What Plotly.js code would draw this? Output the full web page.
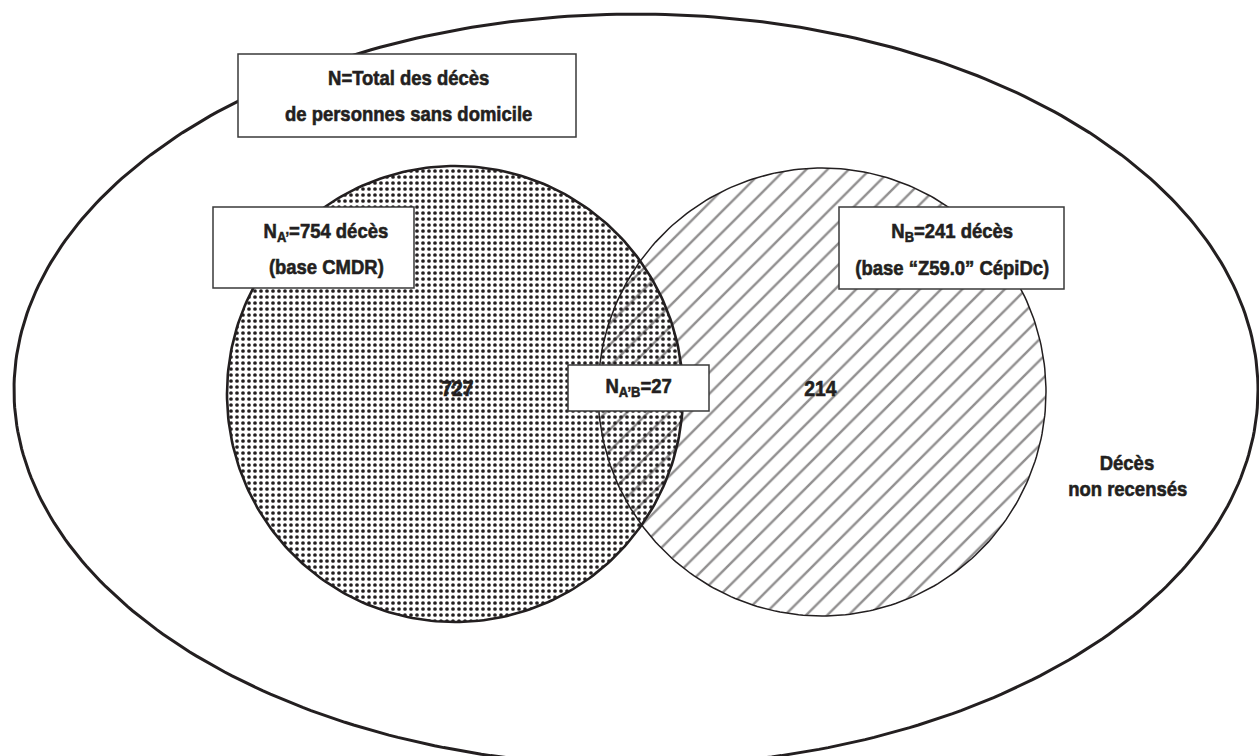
<!DOCTYPE html>
<html><head><meta charset="utf-8">
<script src="https://cdn.plot.ly/plotly-3.0.1.min.js"></script>
<style>html,body{margin:0;padding:0;background:#fff}#chart{width:1259px;height:756px}</style>
</head><body><div id="chart"></div>
<script>
// ---- data ----
const totalLabel = ["N=Total des décès", "de personnes sans domicile"];
const setKeys = ["A’", "B"];
const setTotals = [754, 241];
const setSources = ["(base CMDR)", "(base “Z59.0” CépiDc)"];
const onlyCounts = [727, 214];
const intersectionKey = "A’B";
const intersectionCount = 27;
const unrecordedLabel = ["Décès", "non recensés"];

// ---- geometry / style (layout only) ----
const INK = "#231f20";
const FONT = "'Liberation Sans', Arial, Helvetica, sans-serif";
const FS = 21;          // font size
const SX = 0.88;        // horizontal condensing of the text (narrow face)
const geo = {
  outer: {cx: 636, cy: 390, rx: 622, ry: 376},
  A: {cx: 455, cy: 394, r: 228},
  B: {cx: 822, cy: 392, r: 224},
  titleBox: {x0: 238, y0: 54, x1: 576, y1: 137, tx: 408, lines: [77, 113]},
  boxA: {x0: 213, y0: 207, x1: 414, y1: 288, tx: 326, lines: [232, 266]},
  boxB: {x0: 839, y0: 207, x1: 1064, y1: 289, tx: 952, lines: [232, 267]},
  boxAB: {x0: 568, y0: 365, x1: 709, y1: 411, tx: 638, line: 387},
  onlyPos: [[457, 388], [820, 388]],
  unrecorded: {x: 1127, lines: [462, 488]}
};

function ellipse(cx, cy, rx, ry, n) {
  const xs = [], ys = [];
  for (let i = 0; i <= n; i++) {
    const t = 2 * Math.PI * i / n;
    xs.push(cx + rx * Math.cos(t));
    ys.push(cy + ry * Math.sin(t));
  }
  return {x: xs, y: ys};
}

const outer = ellipse(geo.outer.cx, geo.outer.cy, geo.outer.rx, geo.outer.ry, 400);
const cA = ellipse(geo.A.cx, geo.A.cy, geo.A.r, geo.A.r, 300);
const cB = ellipse(geo.B.cx, geo.B.cy, geo.B.r, geo.B.r, 300);

const traces = [
  {x: outer.x, y: outer.y, mode: 'lines', line: {color: INK, width: 3}, hoverinfo: 'skip'},
  {x: cA.x, y: cA.y, mode: 'lines', fill: 'toself', fillcolor: 'white', line: {width: 0, color: 'rgba(0,0,0,0)'},
   fillpattern: {shape: '.', size: 6, solidity: 0.3, fgcolor: INK, bgcolor: 'white', fillmode: 'replace'}, hoverinfo: 'skip'},
  {x: cB.x, y: cB.y, mode: 'lines', fill: 'toself', fillcolor: 'rgba(0,0,0,0)', line: {width: 1.5, color: INK},
   fillpattern: {shape: '/', size: 15, solidity: 0.16, fgcolor: INK, bgcolor: 'rgba(0,0,0,0)', fillmode: 'overlay'}, hoverinfo: 'skip'},
  {x: cA.x, y: cA.y, mode: 'lines', line: {width: 2.6, color: INK}, hoverinfo: 'skip'}
];

function box(b) {
  return {type: 'rect', xref: 'x', yref: 'y', x0: b.x0, y0: b.y0, x1: b.x1, y1: b.y1,
          fillcolor: 'white', line: {color: '#3a3a3a', width: 1.5}, layer: 'above'};
}
const shapes = [box(geo.titleBox), box(geo.boxA), box(geo.boxB), box(geo.boxAB)];

function txt(x, y, text, size) {
  return {xref: 'x', yref: 'y', x: x, y: y, text: text, showarrow: false,
          xanchor: 'center', yanchor: 'middle',
          font: {family: FONT, size: size || FS, color: INK, weight: 700}};
}
const annotations = [
  txt(geo.titleBox.tx, geo.titleBox.lines[0], totalLabel[0]),
  txt(geo.titleBox.tx, geo.titleBox.lines[1], totalLabel[1]),
  txt(geo.boxA.tx, geo.boxA.lines[0], 'N<sub>' + setKeys[0] + '</sub>=' + setTotals[0] + ' décès'),
  txt(geo.boxA.tx, geo.boxA.lines[1], setSources[0]),
  txt(geo.boxB.tx, geo.boxB.lines[0], 'N<sub>' + setKeys[1] + '</sub>=' + setTotals[1] + ' décès'),
  txt(geo.boxB.tx, geo.boxB.lines[1], setSources[1]),
  txt(geo.boxAB.tx, geo.boxAB.line, 'N<sub>' + intersectionKey + '</sub>=' + intersectionCount),
  txt(geo.onlyPos[0][0], geo.onlyPos[0][1], String(onlyCounts[0]), 22),
  txt(geo.onlyPos[1][0], geo.onlyPos[1][1], String(onlyCounts[1]), 22),
  txt(geo.unrecorded.x, geo.unrecorded.lines[0], unrecordedLabel[0]),
  txt(geo.unrecorded.x, geo.unrecorded.lines[1], unrecordedLabel[1])
];

const layout = {
  width: 1259, height: 756,
  margin: {l: 0, r: 0, t: 0, b: 0, pad: 0},
  paper_bgcolor: 'white', plot_bgcolor: 'white',
  showlegend: false,
  xaxis: {range: [0, 1259], visible: false, fixedrange: true},
  yaxis: {range: [756, 0], visible: false, fixedrange: true},
  shapes: shapes,
  annotations: annotations
};

Plotly.newPlot('chart', traces, layout, {displayModeBar: false, staticPlot: true}).then(function (gd) {
  // condense and embolden the face to mimic the heavy narrow typeface of the original
  gd.querySelectorAll('text.annotation-text').forEach(function (t) {
    const bb = t.getBBox();
    const cx = bb.x + bb.width / 2;
    const prev = t.getAttribute('transform') || '';
    t.setAttribute('transform', prev + ' translate(' + cx + ',0) scale(' + SX + ',1) translate(' + (-cx) + ',0)');
    t.style.stroke = INK;
    t.style.strokeWidth = '0.6px';
  });
});
</script>
</body></html>
